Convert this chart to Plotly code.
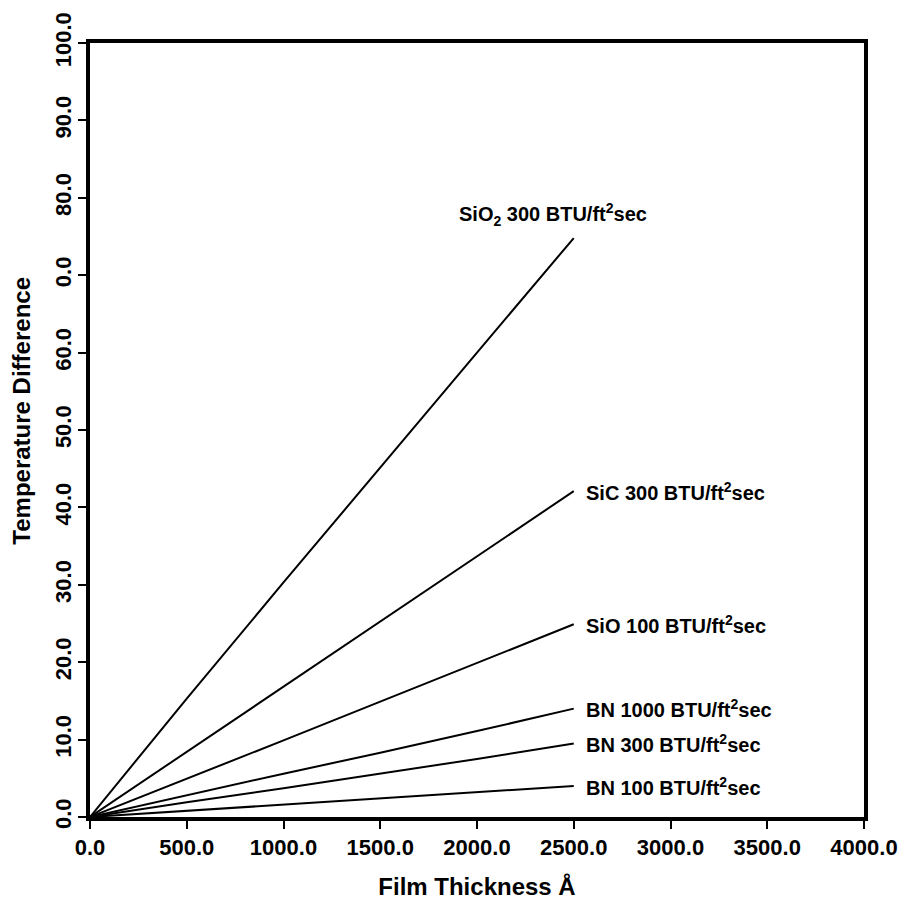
import plotly.graph_objects as go

# Film thickness (Angstrom) sample points
thickness = [0, 500, 1000, 1500, 2000, 2500]

# Temperature difference series
sio2_300 = [0, 15.3, 30.3, 45.2, 60.0, 74.8]
sic_300 = [0, 8.4, 16.8, 25.2, 33.6, 42.1]
sio_100 = [0, 4.9, 9.9, 14.9, 19.9, 24.9]
bn_1000 = [0, 2.8, 5.6, 8.3, 11.1, 14.0]
bn_300 = [0, 1.9, 3.7, 5.6, 7.5, 9.5]
bn_100 = [0, 0.8, 1.6, 2.4, 3.2, 4.0]

series_names = [
    "SiO<sub>2</sub> 300 BTU/ft<sup>2</sup>sec",
    "SiC 300 BTU/ft<sup>2</sup>sec",
    "SiO 100 BTU/ft<sup>2</sup>sec",
    "BN 1000 BTU/ft<sup>2</sup>sec",
    "BN 300 BTU/ft<sup>2</sup>sec",
    "BN 100 BTU/ft<sup>2</sup>sec",
]
series_values = [sio2_300, sic_300, sio_100, bn_1000, bn_300, bn_100]

x_tickvals = [0, 500, 1000, 1500, 2000, 2500, 3000, 3500, 4000]
x_ticktext = ["0.0", "500.0", "1000.0", "1500.0", "2000.0", "2500.0", "3000.0", "3500.0", "4000.0"]
y_tickvals = [0, 10, 20, 30, 40, 50, 60, 70, 80, 90, 100]
y_ticktext = ["0.0", "10.0", "20.0", "30.0", "40.0", "50.0", "60.0", "0.0", "80.0", "90.0", "100.0"]

FONT = "Liberation Sans, Arial, sans-serif"

def bold(size):
    return dict(family=FONT, size=size, color="black", weight="bold")

fig = go.Figure()
for name, vals in zip(series_names, series_values):
    fig.add_trace(go.Scatter(x=thickness, y=vals, mode="lines", name=name,
                             line=dict(color="black", width=2), showlegend=False))

# Labels at line ends
for name, vals in zip(series_names[1:], series_values[1:]):
    fig.add_annotation(x=thickness[-1], y=vals[-1], text=name,
                       showarrow=False, xanchor="left", yanchor="middle", xshift=10,
                       font=bold(20))
fig.add_annotation(x=2393, y=77.8, text=series_names[0],
                   showarrow=False, xanchor="center", yanchor="middle",
                   font=bold(20))

# Y axis title
fig.add_annotation(xref="paper", yref="paper", x=0, y=0.525, xshift=-68,
                   text="Temperature Difference", textangle=-90,
                   showarrow=False, xanchor="center", yanchor="middle",
                   font=bold(24))

axis_common = dict(showline=True, linewidth=4, linecolor="black", mirror=True,
                   ticks="outside", ticklen=8, tickwidth=2, tickcolor="black",
                   showgrid=False, zeroline=False, tickfont=bold(22))

fig.update_xaxes(range=[0, 4000], tickvals=x_tickvals, ticktext=x_ticktext,
                 title=dict(text="Film Thickness Å", font=bold(24), standoff=20),
                 **axis_common)
fig.update_yaxes(range=[0, 100], tickvals=y_tickvals, ticktext=y_ticktext,
                 tickangle=-90, ticklabelstandoff=-2, **axis_common)

fig.update_layout(width=910, height=909, margin=dict(l=90, r=46, t=40, b=89),
                  plot_bgcolor="white", paper_bgcolor="white")

fig.write_html("out.html")
